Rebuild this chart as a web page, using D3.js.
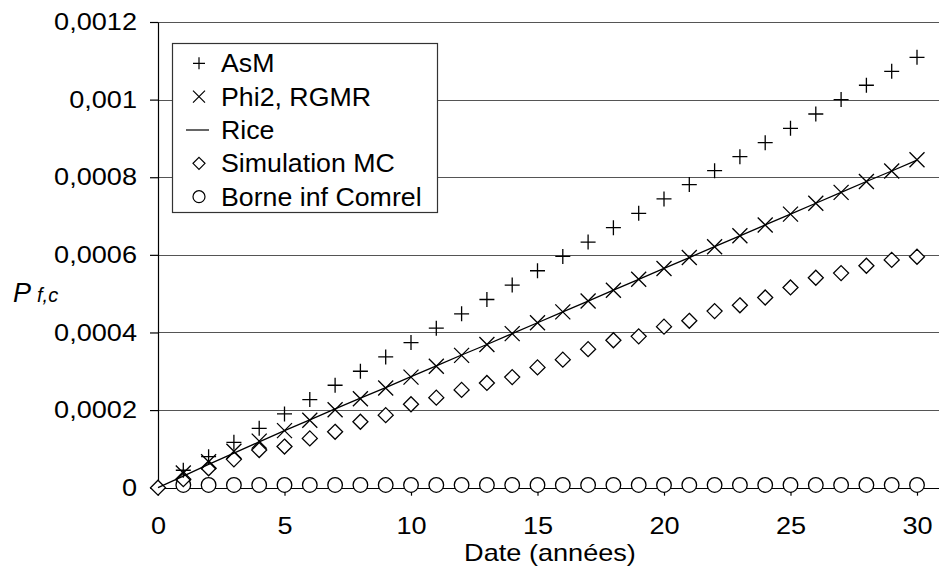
<!DOCTYPE html>
<html>
<head>
<meta charset="utf-8">
<script src="https://cdn.jsdelivr.net/npm/d3@7"></script>
<style>
  html, body { margin: 0; padding: 0; background: #fff; }
  svg { display: block; }
  text { font-family: "Liberation Sans", Arial, sans-serif; fill: #000; }
</style>
</head>
<body>
<svg id="chart" width="939" height="571"></svg>
<script>
// Time axis (years) and failure probability series
const years = d3.range(0, 31);
const xTicks = [0, 5, 10, 15, 20, 25, 30];
const yTicks = [0, 0.0002, 0.0004, 0.0006, 0.0008, 0.001, 0.0012];
const yTickLabels = ["0", "0,0002", "0,0004", "0,0006", "0,0008", "0,001", "0,0012"];

const asm = [0, 0.000045, 0.000080, 0.000117, 0.000153, 0.000190, 0.000227, 0.000264, 0.000300, 0.000337,
  0.000374, 0.000411, 0.000448, 0.000485, 0.000522, 0.000559, 0.000596, 0.000633, 0.000670, 0.000707,
  0.000744, 0.000781, 0.000817, 0.000853, 0.000889, 0.000926, 0.000963, 0.001000, 0.001037, 0.001073, 0.001109];
const phi2 = [0, 0.000038, 0.000067, 0.000094, 0.000120, 0.000147, 0.000174, 0.000201, 0.000229, 0.000257,
  0.000285, 0.000313, 0.000341, 0.000369, 0.000397, 0.000425, 0.000453, 0.000481, 0.000509, 0.000537,
  0.000565, 0.000593, 0.000621, 0.000649, 0.000677, 0.000705, 0.000733, 0.000761, 0.000789, 0.000816, 0.000845];
const rice = [0, 0.000030, 0.000060, 0.000089, 0.000118, 0.000147, 0.000175, 0.000203, 0.000231, 0.000258,
  0.000286, 0.000314, 0.000342, 0.000369, 0.000397, 0.000425, 0.000453, 0.000481, 0.000509, 0.000537,
  0.000565, 0.000593, 0.000621, 0.000649, 0.000677, 0.000705, 0.000733, 0.000761, 0.000789, 0.000816, 0.000844];
const simMC = [0, 0.000022, 0.000050, 0.000073, 0.000097, 0.000106, 0.000127, 0.000144, 0.000170, 0.000187,
  0.000215, 0.000232, 0.000252, 0.000270, 0.000285, 0.000310, 0.000330, 0.000357, 0.000380, 0.000390,
  0.000415, 0.000430, 0.000455, 0.000470, 0.000490, 0.000516, 0.000541, 0.000553, 0.000572, 0.000587, 0.000595];
const comrel = [null, 0.000007, 0.000007, 0.000007, 0.000007, 0.000007, 0.000007, 0.000007, 0.000007, 0.000007,
  0.000007, 0.000007, 0.000007, 0.000007, 0.000007, 0.000007, 0.000007, 0.000007, 0.000007, 0.000007,
  0.000007, 0.000007, 0.000007, 0.000007, 0.000007, 0.000007, 0.000007, 0.000007, 0.000007, 0.000007, 0.000007];

const legendLabels = ["AsM", "Phi2, RGMR", "Rice", "Simulation MC", "Borne inf Comrel"];

const svg = d3.select("#chart");
const x = d3.scaleLinear().domain([0, 30]).range([158, 917]);
const y = d3.scaleLinear().domain([0, 0.0012]).range([487.7, 22]);
const plotRight = 939;
const tickFont = 24, tickStretch = 1.13;

// horizontal grid lines
svg.append("g").selectAll("line").data(yTicks).join("line")
  .attr("x1", x(0)).attr("x2", plotRight)
  .attr("y1", d => Math.round(y(d)) + 0.5).attr("y2", d => Math.round(y(d)) + 0.5)
  .attr("stroke", d => d === 0 ? "#000" : "#555").attr("stroke-width", 1.2);

// y axis
const yAxis = d3.axisLeft(y).tickValues(yTicks)
  .tickFormat((d, i) => yTickLabels[i]).tickSize(8).tickSizeOuter(0).tickPadding(13);
const gy = svg.append("g").attr("transform", `translate(${x(0)},0)`).call(yAxis);
gy.select(".domain").attr("stroke", "#000").attr("stroke-width", 1.2);
gy.selectAll(".tick line").attr("stroke", "#000").attr("stroke-width", 1.2);
gy.selectAll(".tick text").style("font-size", tickFont + "px")
  .style("font-family", "'Liberation Sans', Arial, sans-serif").attr("fill", "#000")
  .attr("x", -21 / tickStretch).attr("transform", `scale(${tickStretch},1)`);

// x axis
const xAxis = d3.axisBottom(x).tickValues(xTicks).tickSize(8).tickSizeOuter(0).tickPadding(21);
const gx = svg.append("g").attr("transform", `translate(0,${y(0)})`).call(xAxis);
gx.select(".domain").remove();
gx.selectAll(".tick line").attr("stroke", "#000").attr("stroke-width", 1.2);
gx.selectAll(".tick text").style("font-size", tickFont + "px")
  .style("font-family", "'Liberation Sans', Arial, sans-serif").attr("fill", "#000")
  .attr("transform", `scale(${tickStretch},1)`);

// axis titles
svg.append("g").attr("transform", `translate(550,561) scale(${tickStretch},1)`)
  .append("text").attr("text-anchor", "middle")
  .style("font-size", tickFont + "px").text("Date (années)");
const yl = svg.append("text").attr("x", 13).attr("y", 302).style("font-style", "italic");
yl.append("tspan").style("font-size", "27px").text("P");
yl.append("tspan").attr("dx", 6).style("font-size", "20px").text("f,c");

// marker shapes
const S = 7.5;
function plus(g) {
  g.append("path").attr("d", `M${-S},0H${S}M0,${-S}V${S}`);
}
function cross(g) {
  g.append("path").attr("d", `M${-S},${-S}L${S},${S}M${-S},${S}L${S},${-S}`);
}
function diamond(g) {
  g.append("path").attr("d", `M0,${-S}L${S},0L0,${S}L${-S},0Z`).attr("fill", "#fff");
}
function circle(g) {
  g.append("circle").attr("r", 7.3).attr("fill", "#fff");
}

// diamonds start at t = 0, the other marker series at t = 1
function drawSeries(values, shape, fromZero) {
  const pts = years.map((t, i) => ({ t, v: values[i] }))
    .filter(d => d.v !== null && (fromZero || d.t > 0));
  svg.append("g").attr("stroke", "#000").attr("stroke-width", 1.3).attr("fill", "none")
    .selectAll("g").data(pts).join("g")
    .attr("transform", d => `translate(${x(d.t)},${y(d.v)})`)
    .each(function () { shape(d3.select(this)); });
}

drawSeries(comrel, circle, false);
drawSeries(simMC, diamond, true);

// Rice curve
svg.append("path")
  .datum(years.map((t, i) => [t, rice[i]]))
  .attr("fill", "none").attr("stroke", "#000").attr("stroke-width", 1.3)
  .attr("d", d3.line().x(d => x(d[0])).y(d => y(d[1])));

drawSeries(phi2, cross, false);
drawSeries(asm, plus, false);

// legend
const lg = svg.append("g");
lg.append("rect").attr("x", 172.5).attr("y", 43.5).attr("width", 265).attr("height", 169)
  .attr("fill", "#fff").attr("stroke", "#333").attr("stroke-width", 1.2);
const LS = 6;
legendLabels.forEach((label, i) => {
  const cy = 63.3 + i * 33.35;
  const g = lg.append("g").attr("transform", `translate(199,${cy})`)
    .attr("stroke", "#000").attr("stroke-width", 1.2).attr("fill", "none");
  if (i === 0) g.append("path").attr("d", `M${-LS},0H${LS}M0,${-LS}V${LS}`);
  if (i === 1) g.append("path").attr("d", `M${-LS},${-LS}L${LS},${LS}M${-LS},${LS}L${LS},${-LS}`);
  if (i === 2) g.append("path").attr("d", `M-13,0H10`);
  if (i === 3) g.append("path").attr("d", `M0,${-LS}L${LS},0L0,${LS}L${-LS},0Z`);
  if (i === 4) g.append("circle").attr("r", 6);
  lg.append("g").attr("transform", `translate(221,${cy}) scale(1.07,1)`)
    .append("text").attr("dy", "0.36em").style("font-size", "25px").text(label);
});
</script>
</body>
</html>
